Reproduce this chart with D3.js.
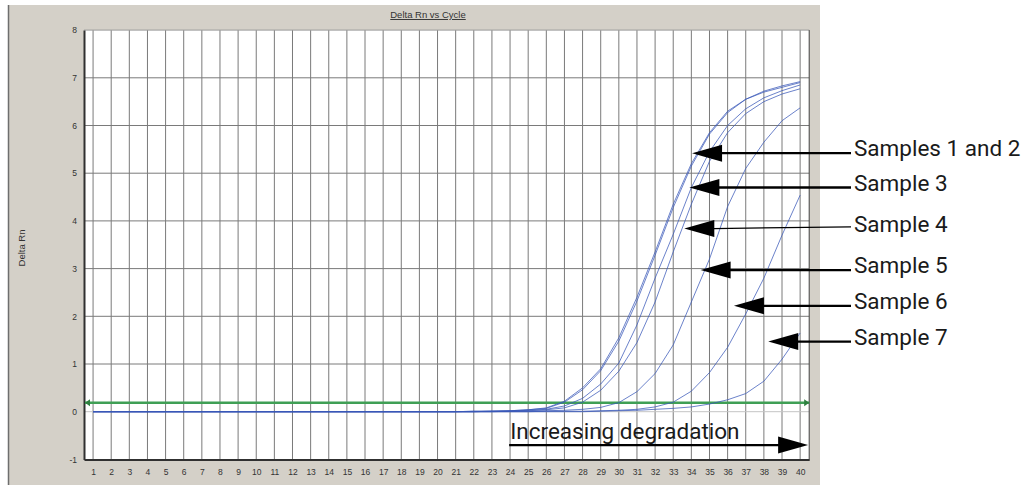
<!DOCTYPE html>
<html><head><meta charset="utf-8">
<script src="https://cdn.jsdelivr.net/npm/d3@7"></script>
<style>html,body{margin:0;padding:0;background:#fff;} svg{display:block;}</style>
</head><body><svg id="c" width="1034" height="485"></svg>
<script>
// ---------- data ----------
const cycles = [1,2,3,4,5,6,7,8,9,10,11,12,13,14,15,16,17,18,19,20,21,22,23,24,25,26,27,28,29,30,31,32,33,34,35,36,37,38,39,40];
const sample1 = [0,0,0,0,0,0,0,0,0,0,0,0,0,0,0,0,0,0,0,0,0,0.01,0.01,0.02,0.04,0.08,0.22,0.5,0.9,1.55,2.4,3.35,4.35,5.2,5.85,6.3,6.55,6.7,6.8,6.9];
const sample2 = [0,0,0,0,0,0,0,0,0,0,0,0,0,0,0,0,0,0,0,0,0,0.01,0.01,0.02,0.04,0.07,0.2,0.46,0.86,1.48,2.32,3.28,4.28,5.15,5.82,6.27,6.55,6.72,6.83,6.92];
const sample3 = [0,0,0,0,0,0,0,0,0,0,0,0,0,0,0,0,0,0,0,0,0,0,0.01,0.01,0.03,0.05,0.12,0.28,0.58,1.02,1.82,2.8,3.72,4.7,5.45,6.0,6.35,6.58,6.73,6.85];
const sample4 = [0,0,0,0,0,0,0,0,0,0,0,0,0,0,0,0,0,0,0,0,0,0,0.01,0.01,0.02,0.04,0.08,0.2,0.45,0.85,1.45,2.3,3.35,4.35,5.25,5.85,6.25,6.5,6.66,6.77];
const sample5 = [0,0,0,0,0,0,0,0,0,0,0,0,0,0,0,0,0,0,0,0,0,0,0,0.01,0.01,0.02,0.03,0.05,0.09,0.19,0.42,0.8,1.4,2.3,3.2,4.3,5.1,5.65,6.1,6.37];
const sample6 = [0,0,0,0,0,0,0,0,0,0,0,0,0,0,0,0,0,0,0,0,0,0,0,0,0,0.01,0.01,0.01,0.02,0.03,0.05,0.1,0.2,0.43,0.82,1.35,2.05,2.8,3.7,4.54];
const sample7 = [0,0,0,0,0,0,0,0,0,0,0,0,0,0,0,0,0,0,0,0,0,0,0,0,0,0,0,0,0.01,0.02,0.03,0.05,0.07,0.1,0.16,0.25,0.38,0.64,1.1,1.65];
const seriesNames = ["Sample 1","Sample 2","Sample 3","Sample 4","Sample 5","Sample 6","Sample 7"];
const yTicks = [-1,0,1,2,3,4,5,6,7,8];
const threshold = 0.19;
const chartTitle = "Delta Rn vs Cycle";
const yAxisTitle = "Delta Rn";
const annLabels = ["Samples 1 and 2","Sample 3","Sample 4","Sample 5","Sample 6","Sample 7"];
const annTipCycle = [34.04, 33.89, 33.61, 34.51, 36.35, 38.24];
const annTipValue = [5.42, 4.70, 3.84, 2.97, 2.22, 1.47];
const degradationLabel = "Increasing degradation";
const degradationFrom = 23.95, degradationTo = 40.44, degradationValue = -0.70;

// ---------- layout ----------
const svg = d3.select("#c");
const x = d3.scaleLinear().domain([0.5, 40.5]).range([84, 809.2]);
const y = d3.scaleLinear().domain([-1, 8]).range([459.4, 30.1]);
const series = [sample1, sample2, sample3, sample4, sample5, sample6, sample7];

// panel
svg.append("rect").attr("x",8).attr("y",5).attr("width",812).attr("height",480).attr("fill","#d4d0c8");
svg.append("line").attr("x1",8.5).attr("x2",8.5).attr("y1",5).attr("y2",485).attr("stroke","#6e6e6e").attr("stroke-width",1.5);

// plot area
svg.append("rect").attr("x",x(0.5)).attr("y",y(8)).attr("width",x(40.5)-x(0.5)).attr("height",y(-1)-y(8)).attr("fill","#fff");

// grid
const grid = svg.append("g");
grid.selectAll("line.v").data(cycles).join("line").attr("class","v")
  .attr("x1",d=>x(d)).attr("x2",d=>x(d)).attr("y1",y(8)).attr("y2",y(-1))
  .attr("stroke","#7a7a7a").attr("stroke-width",1);
grid.selectAll("line.h").data(yTicks.filter(d=>d>-1 && d<8)).join("line").attr("class","h")
  .attr("x1",x(0.5)).attr("x2",x(40.5)).attr("y1",d=>y(d)).attr("y2",d=>y(d))
  .attr("stroke",d=>d===0?"#c4c4c4":"#7a7a7a").attr("stroke-width",1);

// borders
svg.append("line").attr("x1",x(0.5)).attr("x2",x(40.5)).attr("y1",y(8)).attr("y2",y(8)).attr("stroke","#9a9a9a");
svg.append("line").attr("x1",x(40.5)).attr("x2",x(40.5)).attr("y1",y(8)).attr("y2",y(-1)).attr("stroke","#404040");

// axes via d3 axis generators
const yAxis = d3.axisLeft(y).tickValues(yTicks).tickSize(0).tickPadding(7).tickFormat(d=>String(d));
const gy = svg.append("g").attr("transform",`translate(${x(0.5)},0)`).call(yAxis);
gy.select(".domain").attr("stroke","#303030").attr("stroke-width",2);
gy.selectAll("text").attr("font-family","Liberation Sans, Arial, sans-serif").attr("font-size",8.5).attr("fill","#333");

const xAxis = d3.axisBottom(x).tickValues(cycles).tickSize(0).tickPadding(10).tickFormat(d=>String(d));
const gx = svg.append("g").attr("transform",`translate(0,${y(-1)})`).call(xAxis);
gx.select(".domain").attr("stroke","#303030").attr("stroke-width",2);
gx.selectAll("text").attr("font-family","Liberation Sans, Arial, sans-serif").attr("font-size",8.5).attr("fill","#333");

// titles
svg.append("text").attr("x",428).attr("y",18).attr("text-anchor","middle")
  .attr("font-family","Liberation Sans, Arial, sans-serif").attr("font-size",9.5).attr("fill","#333")
  .attr("text-decoration","underline").text(chartTitle);
svg.append("text").attr("transform","translate(25,248) rotate(-90)").attr("text-anchor","middle")
  .attr("font-family","Liberation Sans, Arial, sans-serif").attr("font-size",9.5).attr("fill","#333").text(yAxisTitle);

// threshold
const ty = y(threshold);
svg.append("line").attr("x1",x(0.5)+1).attr("x2",x(40.5)).attr("y1",ty).attr("y2",ty)
  .attr("stroke","#3f9f55").attr("stroke-width",2.5);
svg.append("path").attr("d",`M${x(0.5)+1},${ty} L${x(0.5)+6},${ty-3.5} L${x(0.5)+6},${ty+3.5} Z`).attr("fill","#2f7f40");
svg.append("path").attr("d",`M${x(40.5)},${ty} L${x(40.5)-5},${ty-3.5} L${x(40.5)-5},${ty+3.5} Z`).attr("fill","#2f7f40");

// curves
const line = d3.line().x((d,i)=>x(cycles[i])).y(d=>y(d));
svg.append("g").selectAll("path").data(series).join("path")
  .attr("d",line).attr("fill","none").attr("stroke","#3a58b8").attr("stroke-width",1).attr("stroke-opacity",0.75);

// annotations
const annFont = "Roboto, 'DejaVu Sans', sans-serif";
const lineEndX = 851;
annLabels.forEach((lab,i)=>{
  const tx = x(annTipCycle[i]), tyy = y(annTipValue[i]);
  svg.append("path").attr("d",`M${tx},${tyy} L${tx+30},${tyy-8.5} L${tx+30},${tyy+8.5} Z`).attr("fill","#000");
  svg.append("line").attr("x1",tx+29).attr("x2",lineEndX).attr("y1",tyy).attr("y2",i===2?tyy-1.6:tyy)
    .attr("stroke","#000").attr("stroke-width",i===2?1.3:2.3);
  svg.append("text").attr("x",lineEndX+3).attr("y",tyy+3.2).attr("font-family",annFont).attr("font-size",22.5)
    .attr("fill","#1a1a1a").text(lab);
});
const dy = y(degradationValue), dx0 = x(degradationFrom), dx1 = x(degradationTo);
svg.append("line").attr("x1",dx0).attr("x2",dx1-29).attr("y1",dy).attr("y2",dy).attr("stroke","#000").attr("stroke-width",2.3);
svg.append("path").attr("d",`M${dx1},${dy} L${dx1-30},${dy-8.5} L${dx1-30},${dy+8.5} Z`).attr("fill","#000");
svg.append("text").attr("x",dx0+1).attr("y",dy-6.5).attr("font-family",annFont).attr("font-size",22.5).attr("fill","#1a1a1a").text(degradationLabel);
</script></body></html>
